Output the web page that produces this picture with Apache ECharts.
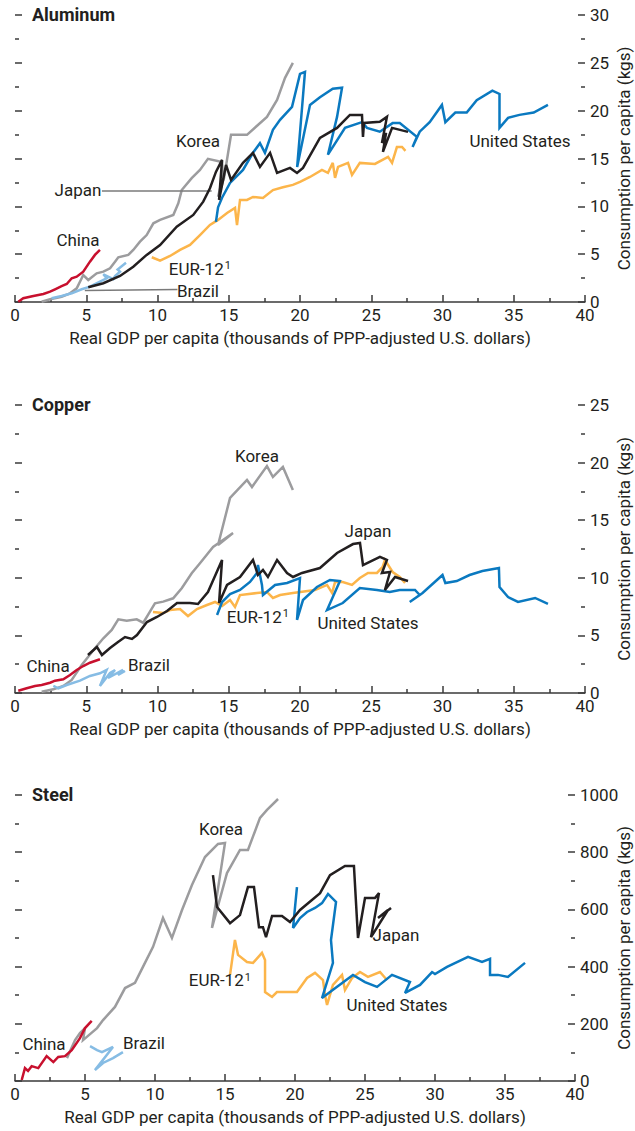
<!DOCTYPE html>
<html><head><meta charset="utf-8">
<script src="https://cdn.jsdelivr.net/npm/echarts@6/dist/echarts.min.js"></script>
<style>html,body{margin:0;padding:0;background:#fff}#c{width:635px;height:1131px}</style>
</head><body><div id="c"></div>
<script>
// ---------- DATA (x: real GDP per capita, thousands PPP US$; y: consumption per capita, kg) ----------
const xTicks = [0, 40, 5];            // min, max, interval
const alumTicks = [0, 30, 5];
const copperTicks = [0, 25, 5];
const steelTicks = [0, 1000, 200];

// Aluminum
const alChina = [[0.23,0.03],[0.58,0.39],[1.29,0.63],[1.64,0.73],[1.99,0.84],[2.46,1.08],[2.81,1.33],[3.27,1.67],[3.63,1.88],[3.98,2.48],[4.33,2.65],[4.79,3.17],[5.26,4.22],[5.61,4.92],[5.96,5.44]];
const alBrazil = [[2.57,0.39],[3.27,0.63],[3.98,0.91],[4.68,1.33],[5.26,1.6],[5.96,2.12],[6.43,2.48],[6.2,2.9],[6.9,2.4],[7.02,2.72],[7.37,3.17],[7.2,3.4],[7.79,4.11]];
const alKorea = [[1.87,0.03],[2.46,0.28],[3.27,0.55],[3.86,0.91],[4.33,1.43],[4.68,2.48],[4.79,2.82],[5.14,2.3],[5.73,3.0],[6.2,3.17],[6.67,3.52],[7.02,4.22],[7.25,4.67],[7.95,4.92],[8.3,5.44],[8.77,6.31],[9.24,7.0],[9.71,8.23],[10.18,8.58],[11.11,9.1],[11.46,10.32],[11.7,11.7],[12.4,12.94],[12.98,13.81],[13.54,14.96],[14.53,14.64],[14.6,13.08],[14.25,11.0],[14.67,12.97],[15.16,17.47],[16.28,17.47],[17.68,19.35],[18.39,21.13],[18.95,23.43],[19.5,25.0]];
const alJapan = [[5.14,1.54],[6.2,1.96],[7.37,2.72],[8.3,3.69],[9.24,4.92],[10.18,5.96],[11.35,7.88],[12.51,9.1],[13.21,10.49],[13.68,11.89],[14.1,13.6],[14.53,14.85],[14.32,10.67],[14.81,14.33],[15.16,12.76],[16.0,14.54],[16.7,15.59],[17.19,14.12],[17.9,15.59],[18.39,13.49],[19.3,14.02],[19.79,13.49],[20.21,14.02],[21.4,17.15],[22.6,18.2],[23.5,19.56],[24.35,19.56],[24.42,17.26],[24.49,18.72],[25.6,18.83],[26.1,19.35],[25.75,16.63],[26.04,17.68],[25.82,15.69],[26.46,18.2],[27.58,17.78]];
const alUS = [[14.1,8.37],[14.25,9.9],[14.53,10.9],[15.09,12.45],[16.0,13.8],[16.7,15.6],[17.19,16.6],[17.54,15.6],[18.1,18.0],[18.6,19.04],[19.44,20.4],[20.0,23.85],[20.35,24.06],[19.8,14.1],[20.7,20.6],[21.4,21.4],[22.3,22.3],[22.95,22.4],[22.6,19.35],[21.96,15.4],[23.16,18.2],[24.35,18.8],[24.7,18.2],[25.6,17.8],[26.5,18.7],[27.0,18.7],[28.2,17.26],[27.9,16.2],[28.4,17.8],[29.1,18.8],[29.96,20.6],[30.2,18.8],[30.9,19.8],[31.7,19.8],[32.4,21.1],[33.5,22.1],[34.0,21.75],[34.0,18.2],[34.6,19.25],[35.4,19.56],[36.4,19.8],[37.4,20.6]];
const alEUR = [[9.6,4.68],[10.18,4.32],[10.88,4.81],[11.58,5.44],[12.28,5.96],[12.98,7.0],[13.68,8.05],[14.25,8.58],[14.88,9.3],[15.44,9.83],[15.58,8.05],[15.79,10.67],[16.28,10.67],[16.7,10.98],[17.4,10.88],[18.1,11.7],[18.8,12.0],[19.5,12.24],[20.0,12.55],[20.7,13.07],[21.54,13.8],[21.96,13.5],[22.3,14.54],[22.46,12.97],[22.67,14.12],[23.37,14.54],[23.65,13.28],[24.2,14.54],[25.26,14.43],[26.18,15.17],[26.46,14.54],[26.8,16.2],[27.16,16.2],[27.4,15.8]];

// Copper
const cuChina = [[0.23,0.2],[0.82,0.41],[1.4,0.61],[1.87,0.69],[2.46,0.89],[2.81,1.07],[3.39,1.19],[3.86,1.56],[4.33,2.0],[4.79,2.34],[5.26,2.63],[5.96,2.93]];
const cuBrazil = [[2.69,0.61],[3.04,0.41],[3.63,0.69],[4.56,1.07],[5.26,1.48],[5.96,1.71],[6.43,2.0],[5.96,0.61],[6.67,1.74],[7.02,2.0],[6.53,1.3],[7.58,2.0],[7.23,1.56],[7.72,1.91]];
const cuKorea = [[1.87,0.11],[2.69,0.32],[3.39,0.61],[3.98,1.13],[4.68,2.43],[5.14,3.15],[5.61,3.88],[6.2,4.75],[6.79,5.47],[7.25,6.4],[7.84,6.28],[8.54,6.4],[9.0,6.1],[9.47,7.06],[9.82,7.79],[10.4,7.93],[11.1,8.22],[11.7,9.09],[12.4,10.39],[12.98,11.26],[13.9,12.67],[15.3,13.89],[14.25,12.85],[15.09,16.93],[16.28,18.49],[16.63,17.88],[17.68,19.7],[18.1,18.75],[18.8,19.62],[19.5,17.62]];
const cuJapan = [[5.12,3.3],[5.75,3.99],[6.1,3.3],[6.67,3.91],[7.23,4.43],[7.72,4.86],[8.21,4.69],[8.56,5.03],[9.26,6.16],[9.96,6.6],[10.67,7.12],[11.37,7.81],[12.28,7.81],[12.84,7.73],[13.54,8.77],[14.53,11.55],[14.32,7.81],[14.88,9.38],[15.79,10.07],[16.7,11.55],[17.05,10.24],[17.4,10.68],[17.75,10.07],[18.39,11.55],[19.09,10.42],[19.51,10.07],[20.14,10.42],[21.4,10.85],[22.6,12.15],[23.72,12.93],[24.21,13.02],[24.42,11.11],[25.61,11.81],[26.1,11.55],[25.75,10.42],[26.32,10.5],[25.96,8.94],[26.67,10.07],[27.58,9.72]];
const cuUS = [[14.18,6.77],[14.53,7.9],[15.09,8.59],[15.79,8.94],[16.49,9.64],[16.98,10.42],[17.05,11.11],[17.33,9.38],[17.4,8.51],[18.25,9.38],[19.09,9.55],[20.0,9.98],[19.79,6.34],[20.21,8.07],[21.19,9.2],[22.1,9.81],[22.8,9.72],[21.9,7.2],[23.0,7.81],[24.2,9.11],[25.4,8.94],[26.3,8.77],[27.0,8.94],[28.07,8.94],[28.4,8.51],[27.7,7.9],[28.6,8.68],[30.0,10.24],[30.2,9.55],[31.0,9.72],[31.9,10.24],[32.8,10.59],[33.96,10.85],[34.0,9.2],[34.6,8.33],[35.3,7.9],[36.5,8.25],[37.4,7.73]];
const cuEUR = [[9.68,7.03],[10.39,6.94],[10.88,7.2],[11.58,7.29],[12.14,6.68],[12.77,7.29],[13.47,7.64],[14.04,7.9],[14.53,7.55],[15.09,8.07],[15.44,7.47],[15.79,8.5],[16.98,8.68],[17.68,8.77],[18.1,8.25],[18.6,8.5],[19.5,8.68],[21.05,8.94],[21.9,9.38],[22.25,8.68],[22.46,9.64],[23.0,9.64],[23.65,9.38],[24.2,9.98],[24.77,10.42],[25.4,10.42],[25.8,10.94],[25.96,11.55],[26.5,10.5],[27.0,10.07],[27.37,9.55]];

// Steel
const stChina = [[0.48,3.5],[0.71,45],[0.93,35],[1.19,52],[1.66,45],[2.26,87],[2.74,66],[3.09,84],[3.57,87],[4.05,108],[4.64,150],[5.0,185],[5.48,210]];
const stBrazil = [[5.36,122],[5.86,108],[6.21,101],[7.0,119],[5.71,38],[6.29,63],[7.0,80],[7.71,101]];
const stKorea = [[3.71,80],[4.29,143],[4.64,168],[5.0,185],[4.86,143],[5.36,164],[5.86,185],[6.29,213],[7.14,259],[7.86,325],[8.57,343],[9.14,399],[9.86,469],[10.57,570],[11.21,500],[11.93,598],[12.64,685],[13.57,783],[14.5,829],[15.0,832],[14.07,535],[15.14,727],[16.07,808],[16.64,808],[17.5,920],[18.0,948],[18.79,986]];
const stJapan = [[14.14,720],[14.43,608],[15.36,552],[16.07,580],[16.64,678],[17.07,678],[17.43,538],[17.71,538],[17.93,503],[18.36,577],[19.07,577],[19.64,556],[20.36,598],[21.79,657],[22.5,720],[23.57,752],[24.21,752],[24.5,500],[25.0,640],[25.71,640],[26.0,657],[25.43,503],[26.64,598],[25.93,570],[26.86,605]];
const stUS = [[20.14,678],[19.86,535],[20.36,570],[20.86,591],[21.43,605],[21.93,622],[22.36,654],[22.93,626],[22.57,493],[22.71,413],[21.93,290],[22.5,311],[24.14,371],[25.0,346],[25.86,329],[26.93,371],[28.21,346],[27.86,308],[28.93,336],[29.79,381],[30.0,374],[30.86,399],[31.57,416],[32.36,434],[33.36,416],[33.93,427],[33.93,371],[34.5,371],[35.21,364],[36.43,413]];
const stEUR = [[15.36,371],[15.71,493],[15.93,441],[16.57,416],[17.0,413],[17.64,448],[17.86,423],[17.86,311],[18.36,294],[18.71,311],[20.14,311],[20.86,360],[21.43,378],[22.0,353],[22.14,301],[22.29,266],[22.71,336],[23.36,371],[23.57,318],[24.07,360],[24.64,381],[25.21,364],[26.07,381],[26.57,353]];

const panelTitles = ['Aluminum', 'Copper', 'Steel'];
const xName = 'Real GDP per capita (thousands of PPP-adjusted U.S. dollars)';
const yName = 'Consumption per capita (kgs)';

// ---------- STYLE / LAYOUT ----------
const FONT = 'Roboto,"Liberation Sans",Arial,sans-serif';
const FS = 17;
const INK = '#231f20';
const COL = {Korea:'#9c9c9e', Japan:'#231f20', US:'#0a79c0', EUR:'#fcb54a', China:'#c8102e', Brazil:'#86bce4'};
const grids = [
  {left:15, top:15, width:570, height:287},
  {left:15, top:405, width:570, height:288},
  {left:15, top:795, width:560, height:286}
];
const yTicks = [alumTicks, copperTicks, steelTicks];
const nameGaps = [30, 30, 40];

// annotation labels (data coordinates) per panel
const EURTXT = '{n|EUR-12}{s|1}';
const annot = [
  [['Korea',12.84,16.84],['Japan',4.42,11.66],['China',4.42,6.49],[EURTXT,12.97,3.45],['Brazil',12.84,1.2],['United States',35.44,16.84]],
  [['Korea',16.98,20.57],['Japan',24.77,14.06],[EURTXT,17.04,6.6],['United States',24.77,6.08],['China',2.32,2.34],['Brazil',9.4,2.43]],
  [['Korea',14.71,881],['Japan',27.21,510],[EURTXT,14.63,353],['United States',27.29,266],['China',2.07,129],['Brazil',9.21,133]]
];
const leaders = [
  [[[6.1,11.64],[13.8,11.64]], [[4.9,1.2],[11.4,1.3]]],
  [], []
];

const panels = [
  {Korea:alKorea, EUR:alEUR, Brazil:alBrazil, China:alChina, US:alUS, Japan:alJapan},
  {Korea:cuKorea, EUR:cuEUR, Brazil:cuBrazil, China:cuChina, US:cuUS, Japan:cuJapan},
  {Korea:stKorea, EUR:stEUR, Brazil:stBrazil, China:stChina, US:stUS, Japan:stJapan}
];

const txt = (size, bold) => ({fontFamily:FONT, fontSize:size, color:INK, fontWeight: bold ? 'bold':'normal'});
const TICK = {color:'#3a3a3a', width:1.5};

const xAxis = [], yAxis = [], series = [], title = [];
grids.forEach((g, i) => {
  title.push({text: panelTitles[i], left: 32, top: g.top - 10, textStyle: txt(18, true), padding: 0});
  xAxis.push({
    type:'value', gridIndex:i, min:xTicks[0], max:xTicks[1], interval:xTicks[2],
    name:xName, nameLocation:'middle', nameGap:27, nameMoveOverlap:false, nameTextStyle: txt(FS),
    axisLine:{show:true, onZero:false, lineStyle:TICK},
    axisTick:{show:true, inside:true, length:7, lineStyle:TICK},
    minorTick:{show:true, splitNumber:2, length:4, lineStyle:TICK},
    axisLabel:{...txt(FS), margin:4, formatter: v => String(v)},
    splitLine:{show:false}, minorSplitLine:{show:false}
  });
  const t = yTicks[i];
  yAxis.push({
    type:'value', gridIndex:i, position:'right', min:t[0], max:t[1], interval:t[2],
    name:yName, nameLocation:'middle', nameGap:nameGaps[i], nameMoveOverlap:false, nameTextStyle: txt(FS),
    axisLine:{show:false, onZero:false},
    axisTick:{show:true, inside:true, length:7, lineStyle:TICK},
    minorTick:{show:true, splitNumber:2, length:4, lineStyle:TICK},
    axisLabel:{...txt(FS), margin:5, formatter: v => String(v)},
    splitLine:{show:false}, minorSplitLine:{show:false}
  });
  yAxis.push({
    type:'value', gridIndex:i, position:'left', min:t[0], max:t[1], interval:t[2],
    axisLine:{show:false, onZero:false},
    axisTick:{show:true, inside:true, length:7, lineStyle:TICK},
    minorTick:{show:true, splitNumber:2, length:4, lineStyle:TICK},
    axisLabel:{show:false},
    splitLine:{show:false}, minorSplitLine:{show:false}
  });
  const p = panels[i];
  const keys = Object.keys(p);
  keys.forEach((k, j) => {
    const s = {
      type:'line', name:k+i, data:p[k], xAxisIndex:i, yAxisIndex:i*2,
      symbol:'none', showSymbol:false, smooth:false, silent:true, animation:false,
      lineStyle:{color:COL[k], width:2.5, join:'miter', miterLimit:3}, itemStyle:{color:COL[k]},
      z: 2 + j
    };
    if (j === keys.length - 1) {
      s.markPoint = {
        silent:true, animation:false, symbol:'circle', symbolSize:1,
        itemStyle:{color:'rgba(0,0,0,0)'},
        label:{show:true, position:'inside', ...txt(FS),
          rich:{n:{...txt(FS)}, s:{fontFamily:FONT, fontSize:11, color:INK, verticalAlign:'top', lineHeight:11, padding:[0,0,6,1]}}},
        data: annot[i].map(a => ({coord:[a[1], a[2]], value:a[0], label:{formatter:a[0]}}))
      };
      if (leaders[i].length) {
        s.markLine = {
          silent:true, animation:false, symbol:'none',
          lineStyle:{color:'#7a7a7a', width:1.5, type:'solid'}, label:{show:false},
          data: leaders[i].map(l => [{coord:l[0]}, {coord:l[1]}])
        };
      }
    }
    series.push(s);
  });
});

const chart = echarts.init(document.getElementById('c'), null, {renderer:'svg'});
chart.setOption({
  animation:false, backgroundColor:'#ffffff',
  textStyle:{fontFamily:FONT},
  title, grid:grids.map(g => ({...g, containLabel:false, outerBoundsMode:'none'})), xAxis, yAxis, series
});
</script></body></html>
